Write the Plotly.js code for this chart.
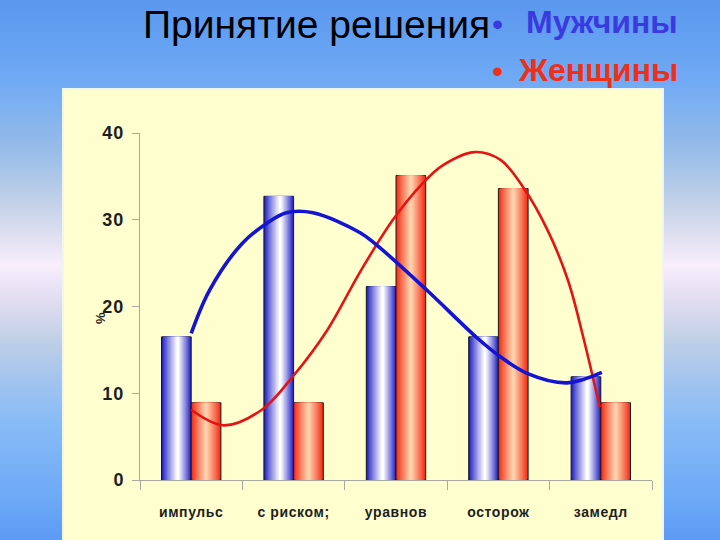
<!DOCTYPE html>
<html><head><meta charset="utf-8">
<script src="https://cdn.plot.ly/plotly-3.0.1.min.js"></script>
<style>
html,body{margin:0;padding:0;}
body{width:720px;height:540px;overflow:hidden;background:linear-gradient(to bottom,#5a98ee 0%,#70aaf5 15%,#98bde8 28%,#c0d0e8 37%,#e0e0f0 44%,#f8eefc 49%,#e0dcf0 56%,#c0d0e6 63%,#a4c4ee 70%,#88bcf6 78%,#6ca8f6 93%,#5c9af4 100%);}
#chart{width:720px;height:540px;}
.xtick text{letter-spacing:0.6px;}
.ytick text{letter-spacing:1px;}
</style></head><body><div id="chart"></div>
<script>
// ---- data ----
var categories = ['импульс', 'с риском;', 'уравнов', 'осторож', 'замедл'];
var men = [16.5, 32.7, 22.3, 16.5, 11.9];
var women = [8.9, 8.9, 35.1, 33.6, 8.9];
var yTicks = [0, 10, 20, 30, 40];
// trend curves (x = category index)
var menCurveX = [0, 0.18, 0.5, 0.74, 0.93, 1.19, 1.65, 1.81, 2.3, 2.79, 3.02, 3.28, 3.67, 4.01];
var menCurveY = [16.9, 21.9, 27.3, 29.6, 30.8, 30.8, 28.5, 27.1, 21.9, 16.4, 14.2, 12.3, 11.2, 12.4];
var womenCurveX = [0, 0.32, 0.69, 0.99, 1.33, 1.65, 1.97, 2.26, 2.46, 2.77, 3.02, 3.25, 3.48, 3.68, 3.83, 3.99];
var womenCurveY = [8.1, 6.3, 8.1, 11.9, 17.3, 24.0, 30.0, 34.2, 36.3, 37.8, 36.9, 33.6, 28.8, 23.0, 16.4, 8.4];
var titleText = 'Принятие решения';
var legendMen = 'Мужчины';
var legendWomen = 'Женщины';
var yTitle = '%';

// ---- layout geometry ----
var W = 720, H = 540;
var M = {l: 140, r: 68, t: 133, b: 60};
var pw = W - M.l - M.r, ph = H - M.t - M.b;
function px(x) { return (x - M.l) / pw; }
function py(y) { return (H - M.b - y) / ph; }

var idx = categories.map(function (_, i) { return i; });
var barW = 0.29;

function hex2rgb(h) { return [parseInt(h.substr(1,2),16), parseInt(h.substr(3,2),16), parseInt(h.substr(5,2),16)]; }
function mix(a, b, t) {
  var A = hex2rgb(a), B = hex2rgb(b);
  return 'rgb(' + [0,1,2].map(function (k) { return Math.round(A[k] + (B[k]-A[k]) * t); }).join(',') + ')';
}
function gradientBars(values, baseOffset, edge, center, tc, name) {
  var N = 12, out = [];
  for (var i = 0; i < N; i++) {
    var f = i / N;
    var left = f * tc, right = 1 - f * (1 - tc);
    var t = Math.pow(i / (N - 1), 0.9);
    out.push({
      type: 'bar', x: idx, y: values, name: name,
      offset: baseOffset + left * barW, width: (right - left) * barW,
      marker: {color: mix(edge, center, t), line: {color: i === 0 ? '#1a1a1a' : 'rgba(0,0,0,0)', width: i === 0 ? 1 : 0}},
      hoverinfo: 'skip', showlegend: false
    });
  }
  return out;
}

var traces = [];
traces = traces.concat(gradientBars(men, -barW, '#2020c4', '#ffffff', 0.55, 'Мужчины'));
traces = traces.concat(gradientBars(women, 0, '#f42a12', '#ffd2ac', 0.5, 'Женщины'));
traces.push({type: 'scatter', mode: 'lines', x: womenCurveX, y: womenCurveY,
  line: {color: '#e41414', width: 2.6, shape: 'spline'}, showlegend: false, hoverinfo: 'skip'});
traces.push({type: 'scatter', mode: 'lines', x: menCurveX, y: menCurveY,
  line: {color: '#1414d2', width: 3.6, shape: 'spline'}, showlegend: false, hoverinfo: 'skip'});

var sans = 'Liberation Sans, Arial, sans-serif';
var boundaries = [];
for (var b = 0; b <= categories.length; b++) boundaries.push(b - 0.5);

var layout = {
  width: W, height: H, margin: M,
  paper_bgcolor: 'rgba(0,0,0,0)', plot_bgcolor: 'rgba(0,0,0,0)',
  barmode: 'overlay', showlegend: false,
  font: {family: sans, color: '#1e1e1e'},
  xaxis: {
    range: [-0.5, categories.length - 0.5], tickvals: idx, ticktext: categories,
    ticks: '', showgrid: false, zeroline: false,
    showline: true, linecolor: '#a8a8a0', linewidth: 1,
    tickfont: {family: sans, size: 14, color: '#1e1e1e', weight: 'bold'},
    ticklabelstandoff: 19,
    minor: {tickvals: boundaries, ticks: 'outside', ticklen: 9, tickcolor: '#a8a8a0', tickwidth: 1, showgrid: false}
  },
  yaxis: {
    range: [0, 40], tickvals: yTicks, ticks: 'outside', ticklen: 7, tickcolor: '#a8a8a0',
    showgrid: false, zeroline: false, showline: true, linecolor: '#a8a8a0', linewidth: 1,
    tickfont: {family: sans, size: 18, color: '#1e1e1e', weight: 'bold'},
    ticklabelstandoff: 4
  },
  shapes: [{
    type: 'rect', xref: 'paper', yref: 'paper', layer: 'below',
    x0: px(63), x1: px(663), y0: py(548), y1: py(89),
    fillcolor: '#fefece', line: {color: '#eef6ee', width: 2}
  }],
  annotations: [
    {xref: 'paper', yref: 'paper', x: px(141), y: py(24), xanchor: 'left', yanchor: 'middle',
     text: titleText, showarrow: false, font: {family: sans, size: 39, color: '#000000'}},
    {xref: 'paper', yref: 'paper', x: px(497), y: py(24), xanchor: 'center', yanchor: 'middle',
     text: '•', showarrow: false, font: {family: sans, size: 32, color: '#3a3ae0'}},
    {xref: 'paper', yref: 'paper', x: px(680), y: py(22), xanchor: 'right', yanchor: 'middle',
     text: legendMen, showarrow: false, font: {family: sans, size: 32, color: '#3a3ae0', weight: 'bold'}},
    {xref: 'paper', yref: 'paper', x: px(497), y: py(71), xanchor: 'center', yanchor: 'middle',
     text: '•', showarrow: false, font: {family: sans, size: 32, color: '#ee3018'}},
    {xref: 'paper', yref: 'paper', x: px(680), y: py(70), xanchor: 'right', yanchor: 'middle',
     text: legendWomen, showarrow: false, font: {family: sans, size: 32, color: '#ee3018', weight: 'bold'}},
    {xref: 'paper', yref: 'paper', x: px(100), y: py(318), xanchor: 'center', yanchor: 'middle',
     text: yTitle, textangle: -90, showarrow: false, font: {family: sans, size: 13, color: '#1e1e1e', weight: 'bold'}}
  ]
};

Plotly.newPlot('chart', traces, layout, {staticPlot: true, displayModeBar: false});
</script></body></html>
